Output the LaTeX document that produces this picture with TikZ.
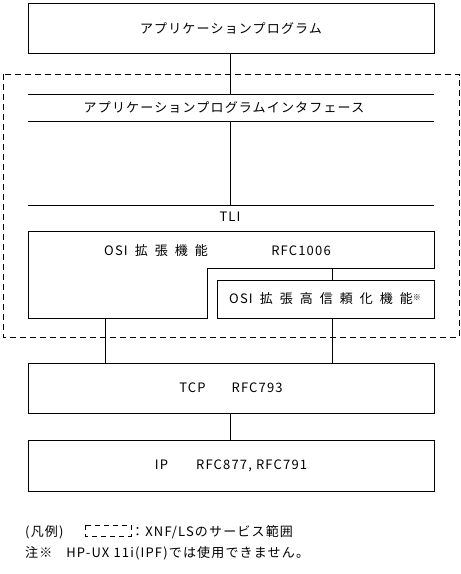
\documentclass[tikz,border=0pt]{standalone}
\usepackage{fontspec}
\setmainfont[LetterSpace=9]{Noto Sans CJK JP}
\newcommand\kgap{\hspace{7pt}}
\begin{document}
\begin{tikzpicture}[x=1pt,y=-1pt,
  every node/.style={font=\fontsize{13}{15}\selectfont, inner sep=0pt},
  box/.style={draw, line width=0.8pt, minimum width=406pt},
  ln/.style={line width=0.8pt},
  scopebox/.style={line width=0.8pt, dash pattern=on 6pt off 4pt},
  lbl/.style={anchor=center}]
\useasboundingbox[fill=white] (0,0) rectangle (461,574);

% service scope (dashed)
\draw[scopebox] (3,74) rectangle (459,337);

% application program
\node[box, minimum height=50pt] (app) at (231,28) {アプリケーションプログラム};

% API band
\coordinate (l1a) at (28,94);  \coordinate (l1b) at (434,94);
\coordinate (l2a) at (28,121); \coordinate (l2b) at (434,121);
\coordinate (l3a) at (28,205); \coordinate (l3b) at (434,205);
\draw[ln] (l1a) -- (l1b);
\draw[ln] (l2a) -- (l2b);
\draw[ln] (l3a) -- (l3b);
\node[lbl] (api) at (224,107) {アプリケーションプログラムインタフェース};
\coordinate (v1) at (230,94);
\coordinate (v2) at (230,121);
\coordinate (v3) at (230,205);
\draw[ln] (230,53) -- (v1);
\draw[ln] (v2) -- (v3);

% TLI
\node[lbl] (tli) at (230,217) {TLI};

% OSI extension (L-shaped)
\coordinate (o1) at (28,231);  \coordinate (o2) at (434,231);
\coordinate (o3) at (434,268); \coordinate (o4) at (207,268);
\coordinate (o5) at (207,318); \coordinate (o6) at (28,318);
\draw[ln] (o1) -- (o2) -- (o3) -- (o4) -- (o5) -- (o6) -- cycle;
\node[lbl] (osi) at (156,251) {OSI\kgap 拡\kgap 張\kgap 機\kgap 能};
\node[lbl] (rfc1006) at (301,251) {RFC1006};

% OSI high reliability
\node[draw, line width=0.8pt, minimum width=217pt, minimum height=38pt] (hr) at (325.5,299) {};
\node[lbl] (hrt) at (325,299) {OSI\kgap 拡\kgap 張\kgap 高\kgap 信\kgap 頼\kgap 化\kgap 機\kgap 能\raisebox{3pt}{\fontsize{8}{9}\selectfont ※}};
\coordinate (c332) at (332,268);
\draw[ln] (c332) -- (c332 |- hr.north);

% TCP
\node[box, minimum height=50pt] (tcp) at (231,388) {TCP\hspace{26pt}RFC793};
\coordinate (c105) at (105,318);
\draw[ln] (c105) -- (c105 |- tcp.north);
\draw[ln] (c332 |- hr.south) -- (c332 |- tcp.north);

% IP
\node[box, minimum height=51pt] (ip) at (231,465.5) {IP\hspace{28pt}RFC877, RFC791};
\draw[ln] (230,413) -- (230,440);

% legend
\node[anchor=west] (leg) at (25,532) {(凡例)};
\draw[line width=0.8pt, dash pattern=on 5pt off 4pt] (85,525) rectangle (131,536);
\node[anchor=west] (legt) at (131,532) {：XNF/LSのサービス範囲};
\node[anchor=west] (note) at (25,553) {注※\hspace{14pt}HP-UX 11i(IPF)では使用できません。};
\end{tikzpicture}
\end{document}
